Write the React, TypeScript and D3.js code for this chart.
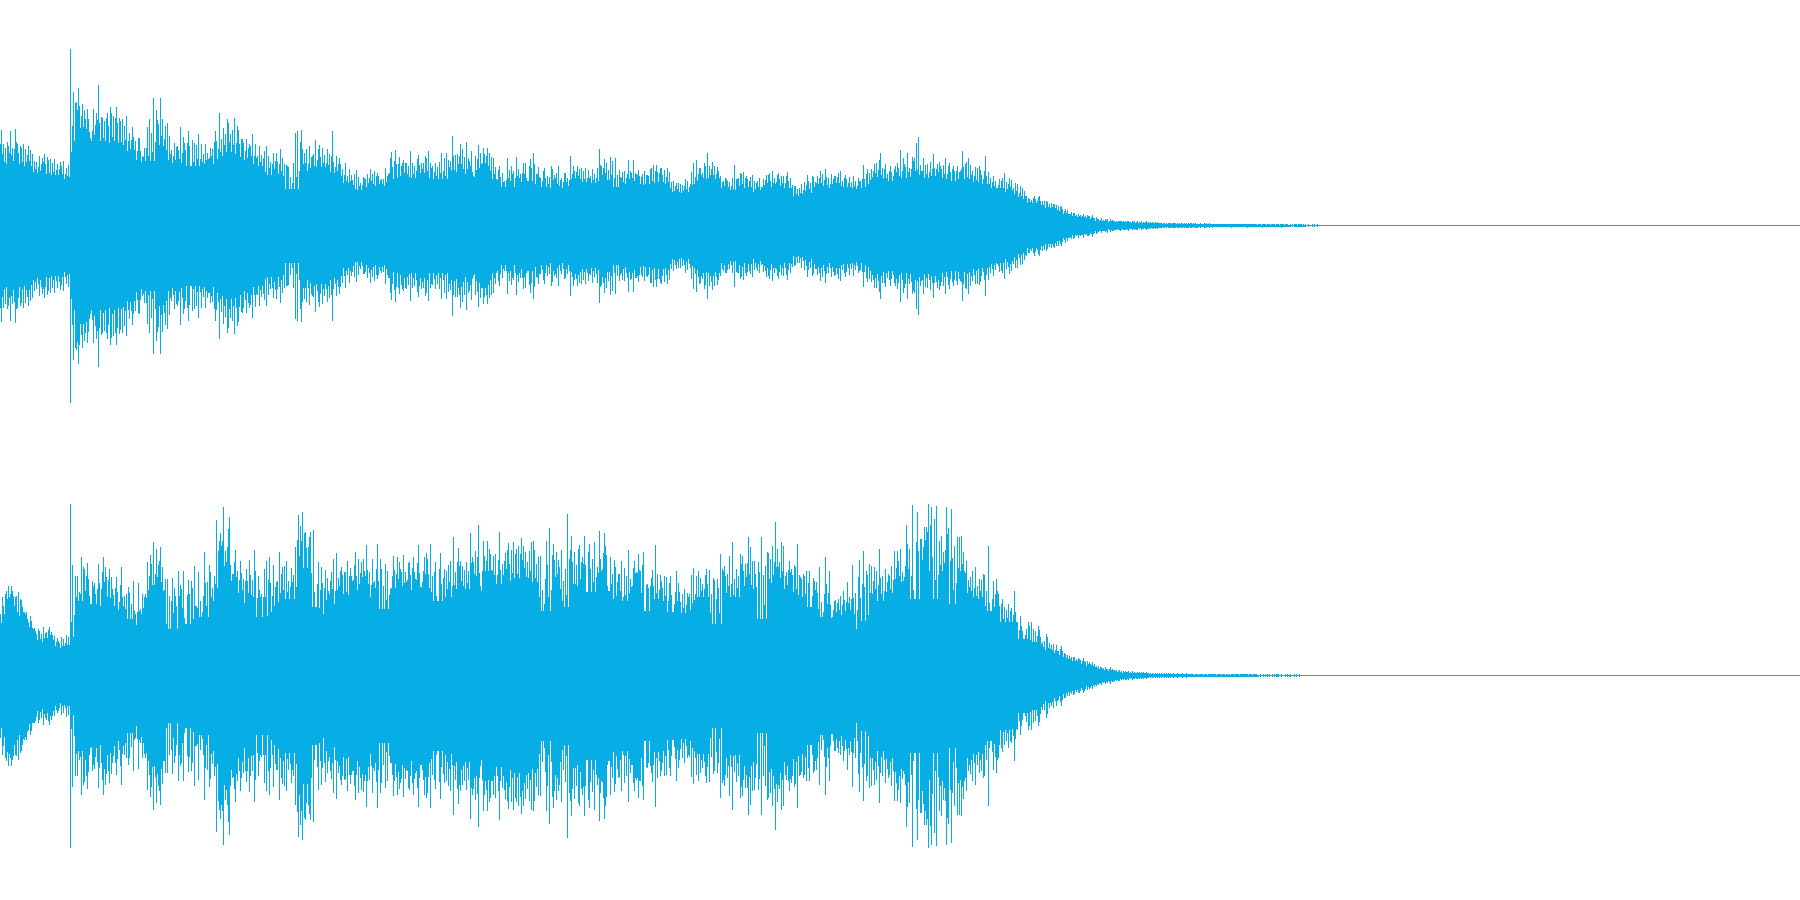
import React, { useMemo } from "react";
import * as d3 from "d3";

const WAVE_COLOR = "#07aee5";
const WIDTH = 1800;
const CHANNEL_HEIGHT = 450;
const SEGMENT_TICKS = 1568; // time ticks per 600 columns
const COMB_LEVELS = [0.55, 0, 0.3, 0.8, 0.1, 0.45, 0, 0.65, 0.2];
const SOLID_SHARE = 0.75;

// [time tick, peak amplitude]
const ch1Early: [number, number][] = [
[0,82],[3,96],[8,82],[14,78],[20,80],[26,95],[32,78],[38,97],[44,82],[52,80],[60,82],[66,77],[74,80],[84,72],[90,65],[102,70],[110,68],[116,72],[122,69],[130,67],[140,67],[150,62],[158,64],[165,65],[172,58],[178,61],
[184,177],[192,134],[198,124],[204,138],[210,98],[213,122],[222,107],[228,117],[234,88],[244,117],[250,113],[257,141],[264,109],[272,105],[280,113],[288,119],[295,110],[302,119],[310,108],[318,107],[325,100],[330,110],[337,93],[346,99],[354,85],[362,88],[370,70],[380,65],[390,107],[401,128],[410,106],[419,128],[428,87],[437,103],[445,72],[454,83],[463,80],[471,99],[480,83],[490,95],[498,60],[507,83],[517,92],[526,82],[535,82],[543,67],[552,70],[563,95],[573,113],[582,98],[592,107],[600,92],[612,108],[622,96],[632,87],[642,87],[650,82],[659,92],[668,68],[677,80],[686,68],[694,80],[703,58],[712,62],[722,73],[732,77],[741,62],[750,60],[760,37],[770,93],[776,95],[787,96],[795,73],[804,62],[815,70],[824,86],[833,81],[842,78],[851,63],[860,72],[868,95],[877,70],[885,68],[895,57],[903,45],[912,57],[920,46],[930,56],[940,43],[950,48],[958,52],[968,57],[977,55],[986,53],[995,47],[1005,58],[1014,52],[1023,74],[1032,76],[1041,62],[1050,63],[1060,63],[1072,75],[1082,60],[1092,71],[1100,63],[1110,70],[1118,75],[1126,58],[1136,63],[1144,47],[1153,73],[1165,73],[1172,66],[1182,90],[1190,71],[1198,62],[1203,82],[1212,69],[1217,84],[1226,65],[1235,50],[1248,81],[1256,62],[1262,78],[1272,78],[1282,69],[1290,52],[1297,47],[1304,60],[1318,45],[1326,68],[1338,52],[1348,69],[1358,52],[1368,63],[1377,45],[1386,67],[1394,73],[1403,52],[1412,48],[1422,58],[1430,50],[1440,60],[1450,48],[1458,60],[1466,48],[1474,53],[1482,48],[1490,70],[1498,60],[1508,60],[1518,58],[1528,58],[1538,48],[1548,57],[1558,48],[1566,77]];

const ch1Late: [number, number][] = [
[0,61],[5,51],[11,67],[18,46],[25,69],[32,65],[38,68],[43,39],[52,49],[57,54],[63,55],[70,52],[74,66],[80,53],[87,66],[95,52],[100,56],[108,49],[116,55],[122,51],[130,57],[138,61],[146,61],[153,53],[160,58],[168,56],[174,58],[182,38],[190,45],[199,43],[210,42],[222,47],[236,42],[244,63],[250,66],[258,58],[266,53],[272,63],[279,73],[286,60],[292,64],[299,60],[306,59],[314,50],[322,45],[330,47],[349,61],[358,47],[366,53],[374,54],[382,50],[390,45],[398,51],[410,45],[420,39],[433,51],[441,53],[450,55],[458,42],[466,53],[478,50],[488,54],[500,38],[508,40],[516,37],[524,42],[534,44],[540,51],[555,50],[565,43],[574,55],[587,57],[600,42],[612,50],[622,53],[628,55],[640,51],[650,49],[660,50],[672,40],[677,45],[688,61],[695,52],[702,53],[717,62],[728,66],[733,73],[742,57],[750,52],[757,60],[770,60],[776,63],[785,76],[795,62],[803,73],[808,58],[817,65],[827,83],[830,89],[838,55],[845,68],[855,62],[862,64],[871,72],[880,62],[888,60],[902,68],[912,63],[922,60],[930,55],[940,55],[947,75],[955,62],[961,68],[972,55],[984,58],[993,56],[1005,70],[1015,54],[1027,50],[1037,38],[1047,45],[1057,53],[1070,48],[1080,38],[1090,42],[1102,38],[1112,30],[1122,27],[1133,30],[1147,30],[1155,25],[1165,25],[1175,18],[1187,22],[1197,20],[1205,20],[1215,17],[1225,12],[1237,13],[1250,12],[1262,12],[1275,10],[1288,8],[1300,7],[1312,5],[1325,7],[1340,5],[1360,5],[1380,5],[1400,4],[1430,3],[1460,2.5],[1500,2.5],[1525,2.5],[1560,2],
[1600,2],[1650,2],[1670,1.5],[1690,2],[1710,1.5],[1730,2],[1750,1],[1780,2],[1800,1],[1815,1.5],[1840,1],[1860,1.5],[1880,0.5]];

const ch2Early: [number, number][] = [
[0,62],[4,79],[8,70],[12,82],[16,85],[21,90],[25,82],[29,90],[33,80],[38,79],[43,80],[47,84],[52,77],[57,69],[62,64],[68,64],[74,54],[80,55],[86,47],[92,45],[98,47],[106,42],[113,49],[120,44],[128,49],[134,44],[140,40],[146,34],[152,35],[160,39],[165,37],[172,41],[178,39],
[184,172],[189,111],[195,100],[200,100],[206,84],[212,119],[218,109],[224,100],[228,113],[234,72],[240,95],[245,93],[250,72],[257,112],[265,87],[270,119],[275,109],[280,79],[286,107],[292,87],[298,70],[304,99],[310,74],[317,109],[322,70],[330,82],[335,89],[340,57],[347,95],[354,62],[360,93],[367,67],[371,82],[378,82],[385,114],[392,121],[401,134],[408,127],[415,115],[419,129],[425,85],[430,97],[437,97],[445,47],[450,98],[458,80],[465,105],[472,87],[478,105],[484,52],[490,96],[498,95],[507,110],[512,70],[518,104],[526,59],[532,124],[540,94],[547,111],[553,88],[559,100],[565,156],[570,125],[574,143],[580,135],[584,169],[590,114],[592,129],[598,159],[605,102],[613,126],[620,105],[628,115],[634,97],[640,95],[645,95],[652,116],[660,79],[665,126],[668,59],[673,100],[680,79],[688,79],[696,115],[702,119],[707,64],[714,111],[722,94],[730,124],[735,102],[742,110],[748,115],[756,77],[764,94],[770,129],[775,136],[780,161],[786,135],[790,164],[798,144],[804,129],[811,144],[818,146],[822,69],[830,114],[838,109],[845,62],[850,106],[858,85],[863,95],[870,117],[878,123],[885,90],[892,109],[898,104],[908,115],[915,108],[920,95],[928,124],[935,117],[943,114],[952,105],[957,131],[965,104],[972,117],[978,95],[986,132],[992,117],[997,67],[1005,112],[1012,105],[1018,87],[1028,120],[1038,119],[1045,107],[1052,121],[1060,94],[1070,114],[1078,119],[1085,97],[1093,131],[1100,89],[1107,119],[1117,117],[1125,132],[1135,104],[1142,75],[1150,123],[1157,98],[1165,105],[1175,115],[1184,139],[1190,104],[1196,128],[1203,115],[1210,90],[1217,114],[1227,143],[1234,119],[1240,102],[1248,151],[1254,90],[1261,135],[1267,105],[1274,135],[1281,122],[1286,105],[1294,122],[1305,144],[1313,112],[1320,123],[1328,133],[1335,126],[1340,134],[1347,122],[1355,130],[1361,138],[1367,130],[1374,99],[1382,125],[1388,134],[1394,135],[1405,119],[1412,120],[1420,65],[1428,135],[1436,148],[1445,132],[1452,124],[1460,109],[1465,126],[1473,69],[1481,162],[1487,117],[1493,140],[1502,92],[1510,127],[1520,119],[1527,140],[1533,84],[1540,132],[1553,134],[1560,109],[1566,145]];

const ch2Late: [number, number][] = [
[0,117],[3,105],[11,143],[14,130],[20,85],[25,119],[31,102],[37,116],[42,80],[47,102],[55,115],[60,79],[69,100],[74,126],[80,89],[89,115],[93,104],[100,122],[105,105],[112,124],[116,65],[122,92],[130,90],[137,106],[144,131],[150,102],[160,95],[166,100],[173,99],[182,100],[192,64],[199,105],[207,84],[215,82],[219,87],[229,79],[237,101],[244,108],[249,82],[257,105],[266,92],[276,107],[285,106],[296,98],[300,52],[305,97],[314,122],[319,107],[325,110],[333,102],[338,120],[345,134],[352,79],[360,100],[366,122],[372,120],[380,112],[388,139],[393,129],[398,115],[405,102],[412,114],[417,57],[422,139],[430,110],[437,124],[443,117],[450,130],[458,154],[464,109],[472,134],[477,130],[485,104],[493,115],[500,107],[507,111],[514,132],[522,99],[530,102],[538,105],[547,105],[550,69],[558,95],[565,94],[572,109],[580,59],[587,119],[593,72],[598,105],[603,58],[612,75],[622,77],[635,85],[645,94],[650,79],[658,111],[665,62],[670,47],[676,116],[683,55],[688,125],[695,105],[702,112],[708,110],[716,109],[725,75],[730,127],[738,100],[745,107],[752,102],[760,110],[768,125],[776,125],[785,127],[793,95],[800,151],[808,127],[816,171],[820,77],[829,164],[836,137],[840,137],[848,149],[852,149],[858,172],[864,169],[869,77],[872,157],[879,170],[886,135],[890,140],[897,124],[903,169],[908,142],[913,72],[918,167],[925,130],[932,139],[938,139],[944,140],[950,105],[956,115],[965,89],[972,105],[980,109],[990,97],[1000,102],[1015,130],[1020,65],[1034,97],[1040,82],[1048,72],[1056,69],[1065,72],[1072,65],[1081,85],[1090,54],[1100,50],[1108,37],[1118,54],[1127,54],[1135,34],[1146,46],[1155,34],[1165,42],[1175,27],[1183,32],[1195,25],[1205,30],[1215,22],[1225,20],[1235,19],[1252,17],[1265,15],[1280,12],[1295,10],[1310,9],[1325,7],[1340,6],[1355,5],[1375,4],[1400,3],[1430,2.5],[1490,2.5],[1500,1.5],
[1540,1.5],[1600,1.5],[1640,1],[1680,1.5],[1720,1],[1770,1.5],[1800,1],[1830,0.5]];

const columnsFor = (early: [number, number][], late: [number, number][], x: d3.ScaleLinear<number, number>) => {
  const pts = [...early, ...late.map(([t, a]) => [t + SEGMENT_TICKS, a] as [number, number])];
  const lastPx = Math.round(x(pts[pts.length - 1][0]));
  const heights = new Array(lastPx + 1).fill(0.5);
  pts.forEach(([t, a], i) => {
    const px = Math.round(x(t));
    const nextPx = i + 1 < pts.length ? Math.round(x(pts[i + 1][0])) : lastPx + 1;
    const near = pts.slice(Math.max(0, i - 2), i + 3).map((p) => p[1]).sort(d3.ascending);
    const mid = near[Math.floor(near.length / 2)];
    const floor = Math.min(near[0], mid * SOLID_SHARE);
    const top = near[Math.min(near.length - 1, Math.floor(near.length / 2) + 1)];
    for (let c = px; c < nextPx; c++) {
      heights[c] = c === px ? a : floor + (top - floor) * COMB_LEVELS[c % COMB_LEVELS.length];
    }
  });
  return heights.map((a, c) => ({ c, a }));
};

function Channel({ early, late, top }: { early: [number, number][]; late: [number, number][]; top: number }) {
  const geometry = useMemo(() => {
    const x = d3.scaleLinear().domain([0, SEGMENT_TICKS * 3]).range([0, WIDTH]);
    const y = d3.scaleLinear().domain([-225, 225]).range([top + CHANNEL_HEIGHT + 0.5, top + 0.5]);
    const cols = columnsFor(early, late, x);
    const d = d3.area<{ c: number; a: number }>()
      .x((p) => p.c)
      .y0((p) => y(-p.a))
      .y1((p) => y(p.a))
      .curve(d3.curveStepAfter)(cols) as string;
    return { d, lineTop: y(0.5), lineHeight: y(-0.5) - y(0.5) };
  }, [early, late, top]);
  return (
    <g>
      <rect x={0} y={geometry.lineTop} width={WIDTH} height={geometry.lineHeight} fill={WAVE_COLOR} shapeRendering="crispEdges" />
      <path d={geometry.d} fill={WAVE_COLOR} shapeRendering="crispEdges" />
    </g>
  );
}

export default function App() {
  return (
    <svg width={1800} height={900} style={{ position: "fixed", left: 0, top: 0, background: "#fff", display: "block" }}>
      <Channel early={ch1Early} late={ch1Late} top={0} />
      <Channel early={ch2Early} late={ch2Late} top={450} />
    </svg>
  );
}
